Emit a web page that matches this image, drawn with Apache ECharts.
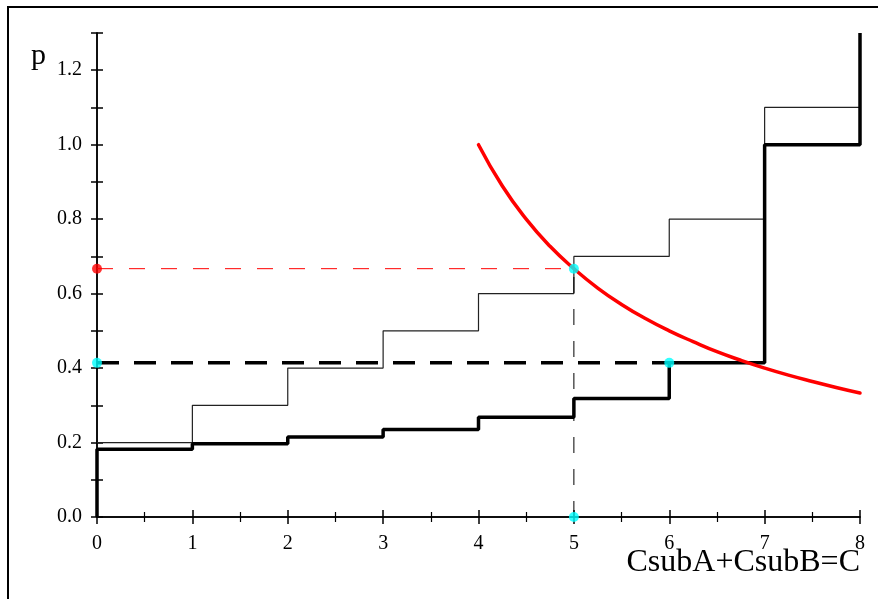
<!DOCTYPE html>
<html>
<head>
<meta charset="utf-8">
<script src="https://cdn.jsdelivr.net/npm/echarts@6/dist/echarts.min.js"></script>
<style>
html,body{margin:0;padding:0;background:#fff;}
#chart{width:878px;height:599px;}
</style>
</head>
<body>
<div id="chart"></div>
<script>
// ---- data ----
var stepX = [0, 1, 2, 3, 4, 5, 6, 7, 8];
var thinValues = [0.2, 0.3, 0.4, 0.5, 0.6, 0.7, 0.8, 1.1];
var thickValues = [0.182, 0.197, 0.215, 0.235, 0.268, 0.318, 0.414, 1.0];
var thickTop = 1.3;
var curveX = [4, 4.25, 4.5, 4.75, 5, 5.25, 5.5, 5.75, 6, 6.25, 6.5, 6.75, 7, 7.25, 7.5, 7.75, 8];
var curveY = [1.0, 0.889, 0.8, 0.727, 0.667, 0.615, 0.571, 0.533, 0.5, 0.471, 0.444, 0.421, 0.4, 0.381, 0.364, 0.348, 0.333];
var redLevel = 0.667, redX = 5;
var blackLevel = 0.414, blackX = 6;
var cyanPoints = [[0, 0.414], [5, 0.667], [5, 0], [6, 0.414]];
var redPoints = [[0, 0.667]];
var yLabel = 'p';
var xLabel = 'CsubA+CsubB=C';

// ---- build series data ----
var thinData = [];
for (var i = 0; i < thinValues.length; i++) thinData.push([stepX[i], thinValues[i]]);
thinData.push([stepX[stepX.length - 1], thinValues[thinValues.length - 1]]);

var thickData = [[0, 0]];
for (var j = 0; j < thickValues.length; j++) thickData.push([stepX[j], thickValues[j]]);
thickData.push([stepX[stepX.length - 1], thickValues[thickValues.length - 1]]);
thickData.push([stepX[stepX.length - 1], thickTop]);

var curveData = curveX.map(function (x, k) { return [x, curveY[k]]; });

var FONT = '"Liberation Serif", "DejaVu Serif", serif';
var chart = echarts.init(document.getElementById('chart'), null, {renderer: 'canvas'});

function xAxisBase(inside) {
  return {
    type: 'value', min: 0, max: 8, interval: 1, position: 'bottom',
    axisLine: {show: true, onZero: false, lineStyle: {color: '#000', width: 1.5}},
    axisTick: {show: true, inside: inside, length: 7, lineStyle: {color: '#000', width: 1.5}},
    minorTick: {show: true, splitNumber: 2, length: 5, lineStyle: {color: '#000', width: 1.2}},
    axisLabel: {show: !inside, margin: 17, color: '#000', fontFamily: FONT, fontSize: 20},
    splitLine: {show: false}, minorSplitLine: {show: false}
  };
}
function yAxisBase(inside) {
  return {
    type: 'value', min: 0, max: 1.3, interval: 0.1, position: 'left',
    axisLine: {show: true, onZero: false, lineStyle: {color: '#000', width: 1.5}},
    axisTick: {show: true, inside: inside, length: 6, lineStyle: {color: '#000', width: 1.5}},
    axisLabel: {
      show: !inside, margin: 15, color: '#000', fontFamily: FONT, fontSize: 20,
      formatter: function (v) {
        var t = Math.round(v * 10);
        return (t % 2 === 0) ? (t / 10).toFixed(1) : '';
      }
    },
    splitLine: {show: false}
  };
}

var option = {
  backgroundColor: '#fff',
  animation: false,
  grid: {left: 97, right: 18, top: 33, bottom: 82, outerBoundsMode: 'none'},
  xAxis: [xAxisBase(false), xAxisBase(true)],
  yAxis: [yAxisBase(false), yAxisBase(true)],
  graphic: [
    {type: 'rect', shape: {x: 8, y: 7, width: 880, height: 600},
     style: {fill: 'none', stroke: '#000', lineWidth: 2}, silent: true, z: 0},
    {type: 'text', left: 31, top: 41, style: {text: yLabel, font: '30px ' + FONT, fill: '#000'}},
    {type: 'text', right: 18, top: 547, style: {text: xLabel, font: '32px ' + FONT, fill: '#000'}}
  ],
  series: [
    {type: 'line', name: 'thin', data: thinData, step: 'end', showSymbol: false, clip: false,
     lineStyle: {color: '#222', width: 1.2}, z: 2},
    {type: 'line', name: 'thick', data: thickData, step: 'end', showSymbol: false, clip: false,
     lineStyle: {color: '#000', width: 3.5}, z: 3},
    {type: 'line', name: 'curve', data: curveData, smooth: true, showSymbol: false, clip: false,
     lineStyle: {color: '#ff0000', width: 3.5, cap: 'round'}, z: 4},
    {type: 'line', name: 'redDash', data: [[0, redLevel], [redX, redLevel]], showSymbol: false, clip: false,
     lineStyle: {color: '#ff0000', width: 1, type: [16, 16]}, z: 4},
    {type: 'line', name: 'blackDash', data: [[0, blackLevel], [blackX, blackLevel]], showSymbol: false, clip: false,
     lineStyle: {color: '#000', width: 3.5, type: [22, 15]}, z: 3},
    {type: 'line', name: 'vDash', data: [[redX, 0], [redX, redLevel]], showSymbol: false, clip: false,
     lineStyle: {color: '#000', width: 1, type: [16, 16]}, z: 3},
    {type: 'scatter', name: 'red', data: redPoints, symbolSize: 10, clip: false,
     itemStyle: {color: '#ff0000'}, z: 6},
    {type: 'scatter', name: 'cyan', data: cyanPoints, symbolSize: 10, clip: false,
     itemStyle: {color: '#00ffff'}, z: 6}
  ]
};
chart.setOption(option);
</script>
</body>
</html>
